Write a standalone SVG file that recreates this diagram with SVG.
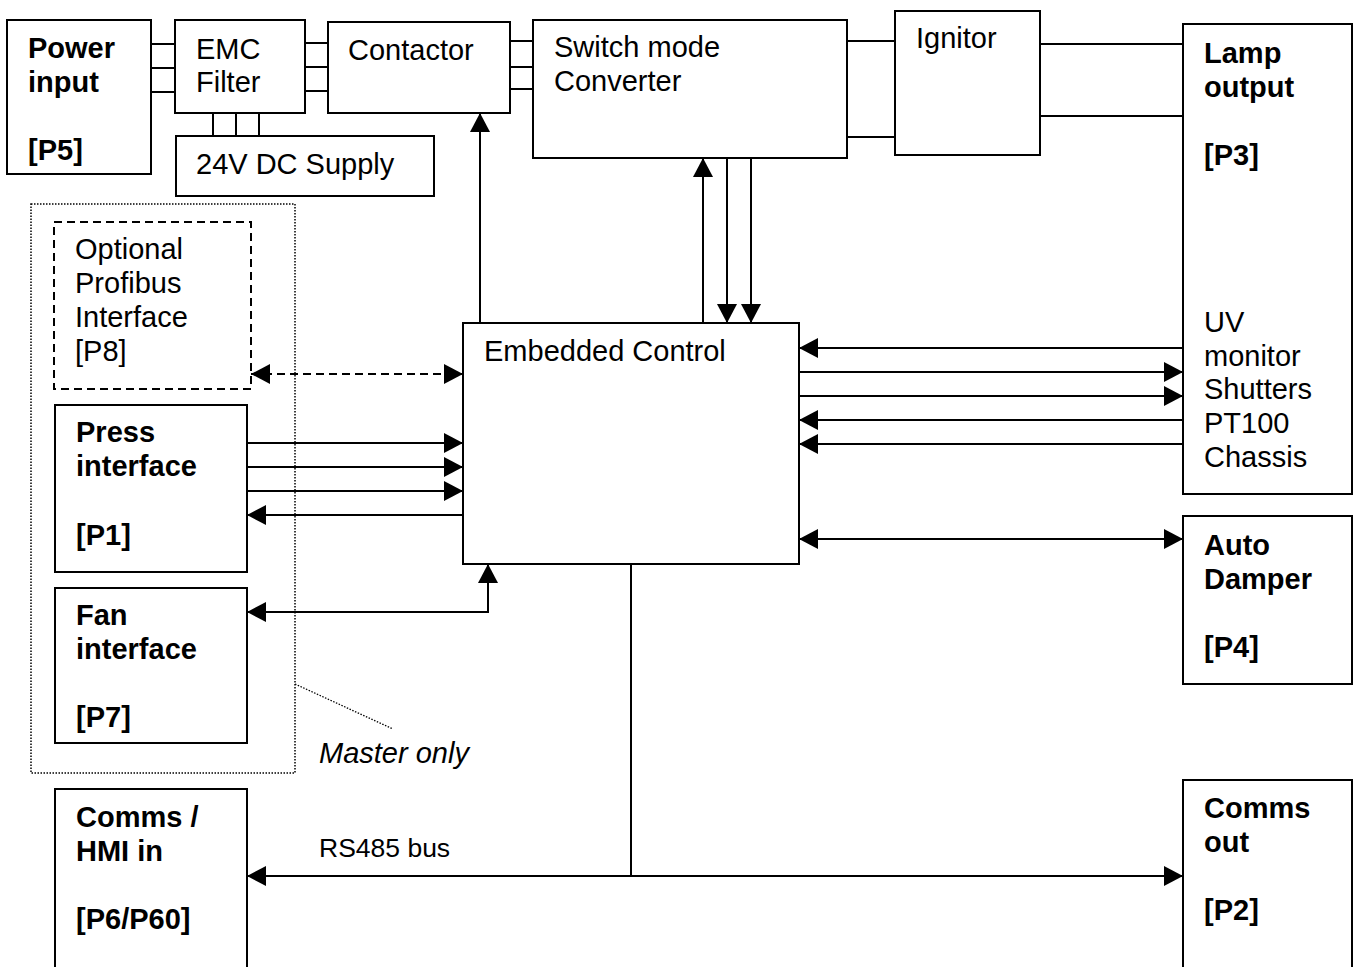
<svg xmlns="http://www.w3.org/2000/svg" width="1356" height="967" viewBox="0 0 1356 967">
<style>
.box{fill:#fff;stroke:#000;stroke-width:2}
.t{font-family:"Liberation Sans",Arial,sans-serif;font-size:29px;fill:#000}
.b{font-weight:bold}
.ln{fill:none;stroke:#000;stroke-width:2}
.ar{fill:none;stroke:#000;stroke-width:2;marker-end:url(#ah)}
.dbl{fill:none;stroke:#000;stroke-width:2;marker-start:url(#ah);marker-end:url(#ah)}
</style>
<defs>
<marker id="ah" markerUnits="userSpaceOnUse" markerWidth="20" markerHeight="20" refX="19" refY="10" orient="auto-start-reverse" viewBox="0 0 20 20">
<path d="M0,0 L19,10 L0,20 z" fill="#000"/>
</marker>
</defs>
<rect width="1356" height="967" fill="#fff"/>

<g id="master-group">
<rect x="31" y="204" width="264" height="569" fill="none" stroke="#000" stroke-width="1.5" stroke-dasharray="1.5,1.5"/>
<line x1="295" y1="684" x2="393" y2="729" stroke="#000" stroke-width="1.3" stroke-dasharray="1.5,1.5"/>
<text class="t" x="319" y="763" font-style="italic">Master only</text>
</g>

<g id="connectors">
<path class="ln" d="M151,44H175M151,68H175M151,92H175"/>
<path class="ln" d="M305,43H328M305,67H328M305,91H328"/>
<path class="ln" d="M213,113V136M236,113V136M259,113V136"/>
<path class="ln" d="M510,41H533M510,67H533M510,89H533"/>
<path class="ln" d="M847,41H895M847,137H895"/>
<path class="ln" d="M1040,44H1183M1040,116H1183"/>
<path class="ln" d="M631,564V876"/>
<path class="ar" d="M480,323V113"/>
<path class="ar" d="M703,323V158"/>
<path class="ar" d="M727,155V323"/>
<path class="ar" d="M751,155V323"/>
<path class="ar" d="M1183,348H799"/>
<path class="ar" d="M799,372H1183"/>
<path class="ar" d="M799,396H1183"/>
<path class="ar" d="M1183,420H799"/>
<path class="ar" d="M1183,444H799"/>
<path class="dbl" d="M799,539H1183"/>
<path class="dbl" d="M251,374H463" stroke-dasharray="8,5"/>
<path class="ar" d="M247,443H463"/>
<path class="ar" d="M247,467H463"/>
<path class="ar" d="M247,491H463"/>
<path class="ar" d="M463,515H247"/>
<path class="dbl" d="M247,612H488V564"/>
<path class="dbl" d="M247,876H1183"/>
<text class="t" x="319" y="857" style="font-size:26.5px">RS485 bus</text>
</g>

<g id="power-input">
<rect class="box" x="7" y="20" width="144" height="154"/>
<text class="t b" x="28" y="58">Power</text>
<text class="t b" x="28" y="92">input</text>
<text class="t b" x="28" y="160">[P5]</text>
</g>

<g id="emc-filter">
<rect class="box" x="175" y="20" width="130" height="93"/>
<text class="t" x="196" y="59">EMC</text>
<text class="t" x="196" y="92">Filter</text>
</g>

<g id="dc-supply">
<rect class="box" x="176" y="136" width="258" height="60"/>
<text class="t" x="196" y="174">24V DC Supply</text>
</g>

<g id="contactor">
<rect class="box" x="328" y="22" width="182" height="91"/>
<text class="t" x="348" y="60">Contactor</text>
</g>

<g id="switch-mode">
<rect class="box" x="533" y="20" width="314" height="138"/>
<text class="t" x="554" y="57">Switch mode</text>
<text class="t" x="554" y="91">Converter</text>
</g>

<g id="ignitor">
<rect class="box" x="895" y="11" width="145" height="144"/>
<text class="t" x="916" y="48">Ignitor</text>
</g>

<g id="lamp-output">
<rect class="box" x="1183" y="24" width="169" height="470"/>
<text class="t b" x="1204" y="63">Lamp</text>
<text class="t b" x="1204" y="97">output</text>
<text class="t b" x="1204" y="165">[P3]</text>
<text class="t" x="1204" y="332">UV</text>
<text class="t" x="1204" y="366">monitor</text>
<text class="t" x="1204" y="399">Shutters</text>
<text class="t" x="1204" y="433">PT100</text>
<text class="t" x="1204" y="467">Chassis</text>
</g>

<g id="profibus">
<rect x="54" y="222" width="197" height="167" fill="#fff" stroke="#000" stroke-width="2" stroke-dasharray="8,5"/>
<text class="t" x="75" y="259">Optional</text>
<text class="t" x="75" y="293">Profibus</text>
<text class="t" x="75" y="327">Interface</text>
<text class="t" x="75" y="361">[P8]</text>
</g>

<g id="embedded-control">
<rect class="box" x="463" y="323" width="336" height="241"/>
<text class="t" x="484" y="361">Embedded Control</text>
</g>

<g id="press-interface">
<rect class="box" x="55" y="405" width="192" height="167"/>
<text class="t b" x="76" y="442">Press</text>
<text class="t b" x="76" y="476">interface</text>
<text class="t b" x="76" y="545">[P1]</text>
</g>

<g id="fan-interface">
<rect class="box" x="55" y="588" width="192" height="155"/>
<text class="t b" x="76" y="625">Fan</text>
<text class="t b" x="76" y="659">interface</text>
<text class="t b" x="76" y="727">[P7]</text>
</g>

<g id="auto-damper">
<rect class="box" x="1183" y="516" width="169" height="168"/>
<text class="t b" x="1204" y="555">Auto</text>
<text class="t b" x="1204" y="589">Damper</text>
<text class="t b" x="1204" y="657">[P4]</text>
</g>

<g id="comms-hmi-in">
<rect class="box" x="55" y="789" width="192" height="200"/>
<text class="t b" x="76" y="827">Comms /</text>
<text class="t b" x="76" y="861">HMI in</text>
<text class="t b" x="76" y="929">[P6/P60]</text>
</g>

<g id="comms-out">
<rect class="box" x="1183" y="780" width="169" height="210"/>
<text class="t b" x="1204" y="818">Comms</text>
<text class="t b" x="1204" y="852">out</text>
<text class="t b" x="1204" y="920">[P2]</text>
</g>
</svg>
